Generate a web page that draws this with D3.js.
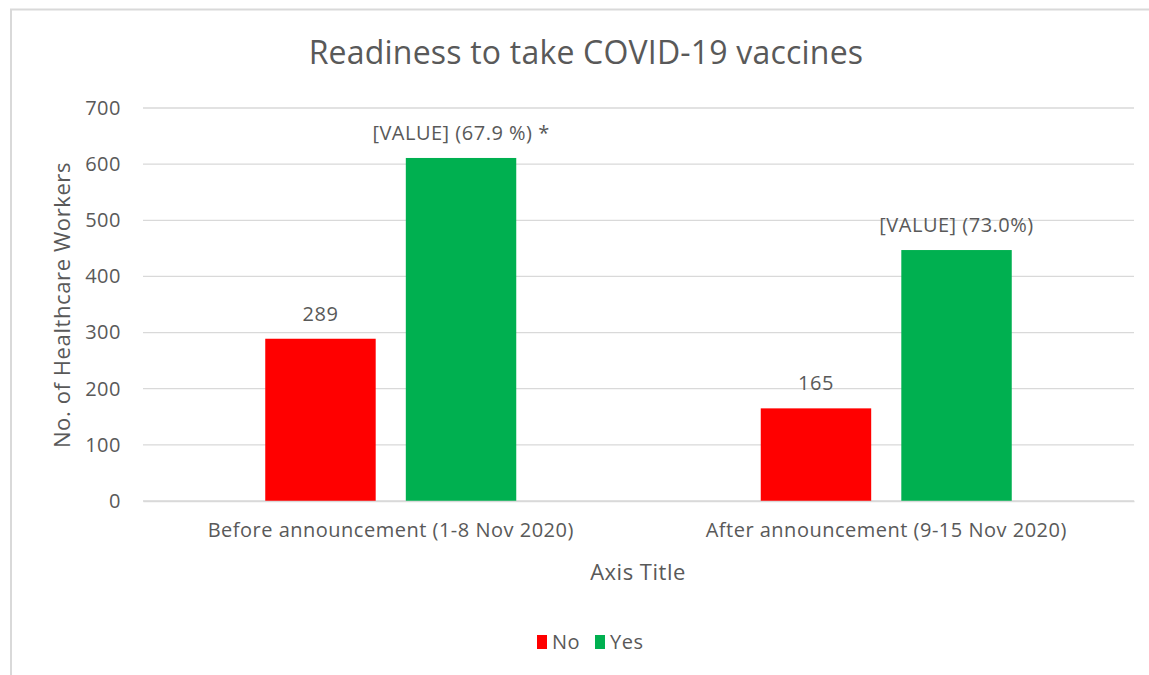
<!DOCTYPE html>
<html><head><meta charset="utf-8">
<script src="https://cdn.jsdelivr.net/npm/d3@7"></script>
<style>body{margin:0;background:#fff}svg{display:block}text{font-family:"Open Sans","Noto Sans",sans-serif;fill:#595959;letter-spacing:0.5px}</style>
</head><body><svg id="c" width="1149" height="675"></svg>
<script>
const categories = ["Before announcement (1-8 Nov 2020)", "After announcement (9-15 Nov 2020)"];
const seriesNames = ["No", "Yes"];
const noValues = [289, 165];
const yesValues = [611, 447];
const noLabels = ["289", "165"];
const yesLabels = ["[VALUE] (67.9 %) *", "[VALUE] (73.0%)"];
const yTicks = [0, 100, 200, 300, 400, 500, 600, 700];
const colors = ["#FF0000", "#00B050"];

(function(){
const FF = "'Open Sans','Noto Sans',sans-serif";
const svg = d3.select("#c");
svg.append("rect").attr("x", 11).attr("y", 9.5).attr("width", 1160).attr("height", 700)
  .attr("fill", "#fff").attr("stroke", "#D9D9D9").attr("stroke-width", 2);

const pL = 143, pR = 1134, pT = 108, pB = 501;
const x = d3.scaleBand().domain(categories).range([pL, pR]).padding(0);
const y = d3.scaleLinear().domain([0, 700]).range([pB, pT]);
const groupW = 251;
const xs = d3.scaleBand().domain(seriesNames).range([0, groupW]).paddingInner(30/140).paddingOuter(0);

svg.append("g").selectAll("line").data(yTicks).join("line")
  .attr("x1", pL).attr("x2", pR).attr("y1", d => y(d)).attr("y2", d => y(d))
  .attr("stroke", "#D9D9D9").attr("stroke-width", 1.3);

const yAxis = svg.append("g").attr("transform", `translate(${pL},0)`)
  .call(d3.axisLeft(y).tickValues(yTicks).tickSize(0).tickPadding(22));
yAxis.select(".domain").remove();
yAxis.selectAll("text").style("font-size", "20px").attr("fill", "#595959").style("font-family", FF);

const data = categories.map((c, i) => ({c, vals: [
  {s: "No", v: noValues[i], lab: noLabels[i]},
  {s: "Yes", v: yesValues[i], lab: yesLabels[i]}]}));

const g = svg.append("g").selectAll("g").data(data).join("g")
  .attr("transform", d => `translate(${x(d.c) + x.bandwidth()/2 - groupW/2},0)`);
g.selectAll("rect").data(d => d.vals).join("rect")
  .attr("x", d => xs(d.s)).attr("width", xs.bandwidth())
  .attr("y", d => y(d.v)).attr("height", d => y(0) - y(d.v))
  .attr("fill", (d, i) => colors[i]);
g.selectAll("text.lab").data(d => d.vals).join("text").attr("class", "lab")
  .attr("x", d => xs(d.s) + xs.bandwidth()/2).attr("y", d => y(d.v) - 18)
  .attr("text-anchor", "middle").style("font-size", "20px").text(d => d.lab);

const xAxis = svg.append("g").attr("transform", `translate(0,${pB})`)
  .call(d3.axisBottom(x).tickSize(0).tickPadding(22));
xAxis.select(".domain").attr("stroke", "#D9D9D9").attr("stroke-width", 1.3);
xAxis.selectAll("text").style("font-size", "20px").attr("fill", "#595959").style("font-family", FF);

svg.append("text").attr("x", 586).attr("y", 64).attr("text-anchor", "middle")
  .style("font-size", "32px").style("letter-spacing", "0.2px").text("Readiness to take COVID-19 vaccines");
svg.append("text").attr("x", 638).attr("y", 580).attr("text-anchor", "middle")
  .style("font-size", "22px").text("Axis Title");
svg.append("text").attr("transform", "translate(70,305) rotate(-90)").attr("text-anchor", "middle")
  .style("font-size", "22px").style("letter-spacing", "0.6px").text("No. of Healthcare Workers");

const lg = svg.append("g").attr("transform", "translate(537,636)");
const items = lg.selectAll("g").data(seriesNames).join("g").attr("transform", (d, i) => `translate(${i*58},0)`);
items.append("rect").attr("width", 10).attr("height", 14).attr("y", -1).attr("fill", (d, i) => colors[i]);
items.append("text").attr("x", 15).attr("y", 13).style("font-size", "20px").text(d => d);
})();
</script></body></html>
